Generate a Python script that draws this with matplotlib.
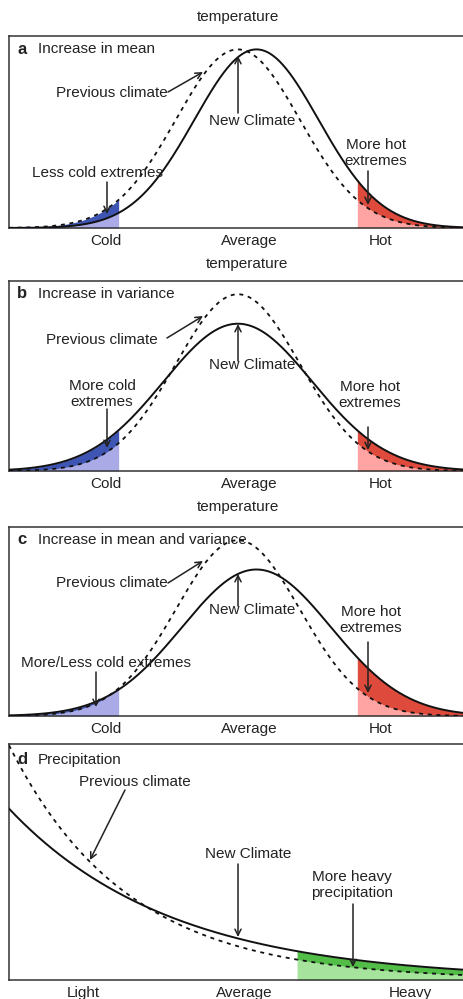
import numpy as np
import matplotlib
matplotlib.use("Agg")
import matplotlib.pyplot as plt

plt.rcParams['font.family'] = ['Liberation Sans', 'DejaVu Sans']

# ---------------- data ----------------
panel_letters = ["a", "b", "c", "d"]
panel_titles = ["Increase in mean", "Increase in variance",
                "Increase in mean and variance", "Precipitation"]
temp_categories = ["Cold", "Average", "Hot"]
precip_categories = ["Light", "Average", "Heavy"]

# temperature distributions (units of previous-climate standard deviation)
prev_mean = [0.0, 0.0, 0.0]
prev_sd = [1.0, 1.0, 1.0]
new_mean = [0.3, 0.0, 0.3]
new_sd = [1.0, 1.2, 1.2]
cold_threshold = -1.92
hot_threshold = 1.92

# precipitation distributions (exponential rates)
precip_prev_rate = 3.85
precip_new_rate = 2.81
heavy_threshold = 0.634

# ---------------- layout ----------------
W, H = 463, 999
fig = plt.figure(figsize=(W / 100, H / 100), dpi=100)
LEFT, RIGHT = 9, 463
boxes = [(36, 228), (281, 471), (527, 716), (744, 980)]
temp_xlim = (-3.69, 3.63)
temp_label_x = [-2.13, 0.19, 2.3]
precip_xlim = (0.0, 1.0)
precip_label_x = [0.163, 0.519, 0.883]
temp_ylim = (0, 1.075)
precip_ylim = (0, 3.87)

TXT = '#222222'
FS = 11
dark = {'blue': '#3f55b4', 'red': '#de4a3c', 'green': '#52be48'}
light = {'blue': '#aaaae6', 'red': '#ffa3a3', 'green': '#a6e39c'}

def make_ax(top, bottom):
    ax = fig.add_axes([LEFT / W, 1 - bottom / H, (RIGHT - LEFT) / W, (bottom - top) / H])
    for s in ['left', 'top', 'bottom']:
        ax.spines[s].set_color('#333333')
        ax.spines[s].set_linewidth(1.1)
    ax.spines['right'].set_visible(False)
    ax.set_xticks([])
    ax.set_yticks([])
    return ax

def fr(px, py, top, bottom):
    return ((px - LEFT) / (RIGHT - LEFT), (bottom - py) / (bottom - top))

def gauss(x, m, s):
    return (1.0 / s) * np.exp(-0.5 * ((x - m) / s) ** 2)

def annotate(ax, top, bottom, text, tpos, tail, tip):
    ax.text(*fr(*tpos, top, bottom), text, transform=ax.transAxes, ha='center',
            va='center', fontsize=FS, color=TXT, linespacing=1.2, zorder=6)
    ax.annotate('', xy=fr(*tip, top, bottom), xycoords='axes fraction',
                xytext=fr(*tail, top, bottom), textcoords='axes fraction',
                arrowprops=dict(arrowstyle='->', color=TXT, lw=1.1,
                                mutation_scale=11, shrinkA=0, shrinkB=0), zorder=7)

def fill_region(ax, x, y1, y2, mask, key):
    lo = np.minimum(y1, y2)
    hi = np.maximum(y1, y2)
    ax.fill_between(x[mask], 0, lo[mask], color=light[key], lw=0, zorder=1)
    ax.fill_between(x[mask], lo[mask], hi[mask], color=dark[key], lw=0, zorder=1)

annots = [
    [("Previous climate", (112, 93), (168, 92), (203, 72)),
     ("New Climate", (252, 121), (238, 113), (238, 56)),
     ("More hot\nextremes", (376, 153), (368, 171), (368, 205)),
     ("Less cold extremes", (98, 173), (107, 182), (107, 214))],
    [("Previous climate", (102, 340), (167, 338), (203, 316)),
     ("New Climate", (252, 365), (238, 361), (238, 324)),
     ("More cold\nextremes", (102, 394), (107, 409), (107, 448)),
     ("More hot\nextremes", (370, 395), (368, 427), (368, 450))],
    [("Previous climate", (112, 583), (168, 583), (203, 561)),
     ("New Climate", (252, 610), (238, 606), (238, 574)),
     ("More hot\nextremes", (371, 620), (368, 642), (368, 693)),
     ("More/Less cold extremes", (106, 663), (96, 672), (96, 707))],
    [("Previous climate", (135, 782), (125, 790), (90, 860)),
     ("New Climate", (248, 854), (238, 864), (238, 937)),
     ("More heavy\nprecipitation", (352, 885), (353, 904), (353, 967))],
]
temp_title_pos = [(238, 17), (247, 264), (238, 507)]

for i in range(4):
    top, bottom = boxes[i]
    ax = make_ax(top, bottom)
    if i < 3:
        x = np.linspace(temp_xlim[0], temp_xlim[1], 800)
        yp = gauss(x, prev_mean[i], prev_sd[i])
        yn = gauss(x, new_mean[i], new_sd[i])
        fill_region(ax, x, yp, yn, x <= cold_threshold, 'blue')
        fill_region(ax, x, yp, yn, x >= hot_threshold, 'red')
        ax.set_xlim(*temp_xlim)
        ax.set_ylim(*temp_ylim)
        cats, labx = temp_categories, temp_label_x
        fig.text(temp_title_pos[i][0] / W, 1 - temp_title_pos[i][1] / H, "temperature",
                 ha='center', va='center', fontsize=FS, color=TXT)
    else:
        x = np.linspace(precip_xlim[0], precip_xlim[1], 800)
        yp = precip_prev_rate * np.exp(-precip_prev_rate * x)
        yn = precip_new_rate * np.exp(-precip_new_rate * x)
        fill_region(ax, x, yp, yn, x >= heavy_threshold, 'green')
        ax.set_xlim(*precip_xlim)
        ax.set_ylim(*precip_ylim)
        cats, labx = precip_categories, precip_label_x
    ax.plot(x, yp, color='#111111', lw=1.3, ls=(0, (2.2, 2.6)), zorder=3, clip_on=True)
    ax.plot(x, yn, color='#111111', lw=1.4, zorder=4)
    lab_y = bottom + 13
    for c, lx in zip(cats, labx):
        ax.annotate(c, xy=(lx, (bottom - lab_y) / (bottom - top)),
                    xycoords=('data', 'axes fraction'), ha='center', va='center',
                    fontsize=FS, color=TXT, annotation_clip=False)
    ly = top + 13 if i < 3 else top + 16
    ax.text(*fr(17, ly, top, bottom), panel_letters[i], transform=ax.transAxes,
            ha='left', va='center', fontsize=FS + 1, fontweight='bold', color=TXT)
    ax.text(*fr(38, ly, top, bottom), panel_titles[i], transform=ax.transAxes,
            ha='left', va='center', fontsize=FS, color=TXT)
    for text, tpos, tail, tip in annots[i]:
        annotate(ax, top, bottom, text, tpos, tail, tip)

fig.savefig('out.png', dpi=100, facecolor='white')
